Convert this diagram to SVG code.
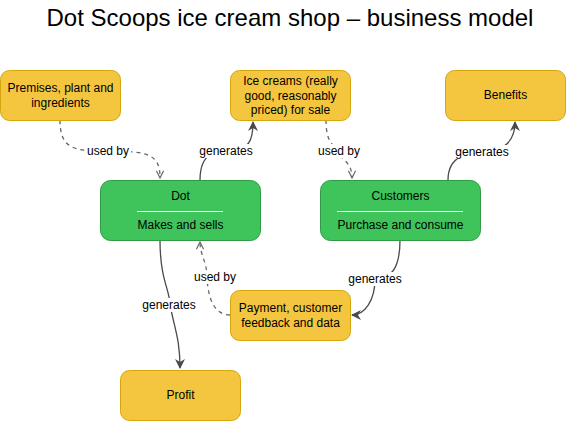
<svg xmlns="http://www.w3.org/2000/svg" width="581" height="421" viewBox="0 0 581 421">
<style>
.y{fill:#F4C63F;stroke:#D6A60E;stroke-width:1}
.g{fill:#3EC45B;stroke:#2E9A43;stroke-width:1}
text{font-family:"Liberation Sans",Arial,sans-serif;font-size:12px;fill:#000;text-anchor:middle}
.t{font-size:24px}
.e{fill:none;stroke:#4a4a4a;stroke-width:1.3}
.d{fill:none;stroke:#666;stroke-width:1.3;stroke-dasharray:4 4}
.lb{fill:#fff;stroke:none}
.div{stroke:#fff;stroke-width:1}
</style>
<defs>
<marker id="fa" viewBox="0 0 10 10" refX="9" refY="5" markerWidth="10" markerHeight="10" markerUnits="userSpaceOnUse" orient="auto">
<path d="M0,0 L10,5 L0,10 L3,5 Z" fill="#4a4a4a"/>
</marker>
<marker id="oa" viewBox="0 0 10 10" refX="9" refY="5" markerWidth="9" markerHeight="9" markerUnits="userSpaceOnUse" orient="auto">
<path d="M1,1 L9,5 L1,9" fill="none" stroke="#666" stroke-width="1.3"/>
</marker>
</defs>
<rect width="581" height="421" fill="#fff"/>
<text class="t" x="290" y="26">Dot Scoops ice cream shop – business model</text>

<g id="connectors">
<path class="d" d="M60,120 C60,150 75,151 108,151 C150,151 160,155 160,178" marker-end="url(#oa)"/>
<rect class="lb" x="86" y="144" width="45" height="14"/>
<text x="108" y="155">used by</text>

<path class="e" d="M200,180 C200,150 220,151 226,151 C250,151 253,140 253,122" marker-end="url(#fa)"/>
<rect class="lb" x="198" y="144" width="56" height="14"/>
<text x="226" y="155">generates</text>

<path class="d" d="M326,120 C326,150 339,145 339,151 C339,160 352,160 352,178" marker-end="url(#oa)"/>
<rect class="lb" x="317" y="144" width="45" height="14"/>
<text x="339" y="155">used by</text>

<path class="e" d="M448,180 C448,155 470,152 482,152 C505,152 515,140 515,122" marker-end="url(#fa)"/>
<rect class="lb" x="454" y="145" width="56" height="14"/>
<text x="482" y="156">generates</text>

<path class="e" d="M400,240 C400,270 390,279 375,279 C375,300 365,315 352,315" marker-end="url(#fa)"/>
<rect class="lb" x="347" y="272" width="56" height="14"/>
<text x="375" y="283">generates</text>

<path class="d" d="M230,315 C215,315 208,300 207,277 C207,262 200,255 200,242" marker-end="url(#oa)"/>
<rect class="lb" x="193" y="270" width="45" height="14"/>
<text x="215" y="281">used by</text>

<path class="e" d="M160,240 C160,280 170,290 170,305 C175,330 180,340 180,368" marker-end="url(#fa)"/>
<rect class="lb" x="141" y="298" width="56" height="14"/>
<text x="169" y="309">generates</text>
</g>

<g id="premises">
<rect class="y" x="0.5" y="70.5" width="120" height="50" rx="9"/>
<text x="60.5" y="92">Premises, plant and</text>
<text x="60.5" y="107">ingredients</text>
</g>
<g id="icecreams">
<rect class="y" x="230.5" y="70.5" width="120" height="50" rx="9"/>
<text x="290.5" y="85">Ice creams (really</text>
<text x="290.5" y="100">good, reasonably</text>
<text x="290.5" y="114">priced) for sale</text>
</g>
<g id="benefits">
<rect class="y" x="445.5" y="70.5" width="120" height="50" rx="9"/>
<text x="505.5" y="99">Benefits</text>
</g>
<g id="dot">
<rect class="g" x="100.5" y="180.5" width="160" height="60" rx="10"/>
<text x="180.5" y="200">Dot</text>
<line class="div" x1="137" y1="211.5" x2="223" y2="211.5"/>
<text x="180.5" y="229">Makes and sells</text>
</g>
<g id="customers">
<rect class="g" x="320.5" y="180.5" width="160" height="60" rx="10"/>
<text x="400.5" y="200">Customers</text>
<line class="div" x1="337" y1="211.5" x2="463" y2="211.5"/>
<text x="400.5" y="229">Purchase and consume</text>
</g>
<g id="payment">
<rect class="y" x="230.5" y="290.5" width="120" height="50" rx="9"/>
<text x="290.5" y="312">Payment, customer</text>
<text x="290.5" y="327">feedback and data</text>
</g>
<g id="profit">
<rect class="y" x="120.5" y="370.5" width="120" height="50" rx="9"/>
<text x="180.5" y="399">Profit</text>
</g>
</svg>
